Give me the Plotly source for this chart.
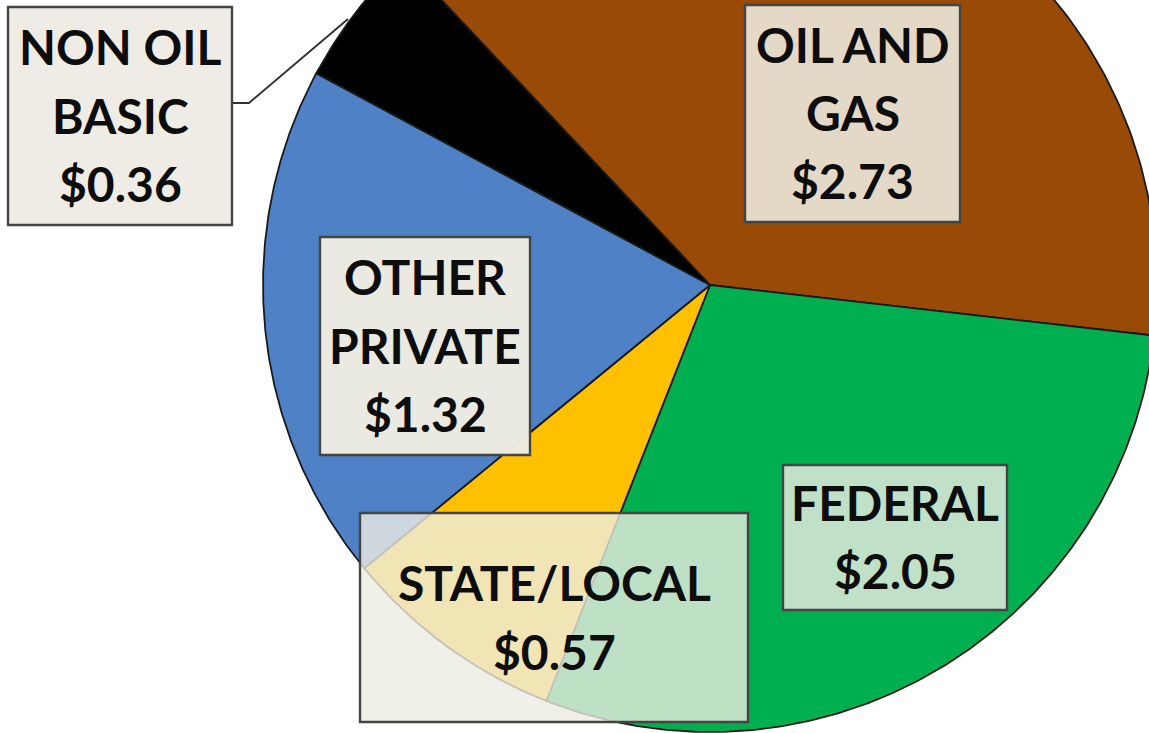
import numpy as np
import plotly.graph_objects as go

# ---- data ----
categories = ["OIL AND GAS", "FEDERAL", "STATE/LOCAL", "OTHER PRIVATE", "NON OIL BASIC"]
values = [2.73, 2.05, 0.57, 1.32, 0.36]
label_lines = [["OIL AND", "GAS"], ["FEDERAL"], ["STATE/LOCAL"], ["OTHER", "PRIVATE"], ["NON OIL", "BASIC"]]
colors = ["#9A4A07", "#00B050", "#FFC000", "#4F81C6", "#000000"]

# ---- layout geometry (pixels of the 1149x733 canvas) ----
W, H = 1149, 733
CX, CY, R = 710, 285, 447          # pie centre & radius in px
START = 316.7                       # compass angle where first slice starts (clockwise)

fig = go.Figure()

total = sum(values)
cum = START
for name, v, col in zip(categories, values, colors):
    span = v / total * 360.0
    th = np.radians(np.linspace(cum, cum + span, 200))
    xs = np.concatenate([[0.0], np.sin(th), [0.0]])
    ys = np.concatenate([[0.0], np.cos(th), [0.0]])
    fig.add_trace(go.Scatter(x=xs, y=ys, mode="lines", fill="toself", fillcolor=col,
                             line=dict(color="#1a1a1a", width=1.8), name=name,
                             hoverinfo="name", showlegend=False))
    cum += span

# axis ranges so that unit circle maps to the px geometry
fig.update_xaxes(range=[-CX / R, (W - CX) / R], visible=False, fixedrange=True)
fig.update_yaxes(range=[-(H - CY) / R, CY / R], visible=False, fixedrange=True)

def px(x):
    return x / W

def py(y):
    return 1 - y / H

# label boxes: (x0, y0, x1, y1, fill rgba, line step)
boxes = {
    "OIL AND GAS": (745, 5, 960, 222, "rgba(238,236,226,0.88)", 68),
    "FEDERAL": (783, 465, 1007, 610, "rgba(240,238,230,0.80)", 68),
    "STATE/LOCAL": (360, 513, 748, 722, "rgba(238,236,226,0.80)", 69),
    "OTHER PRIVATE": (320, 237, 530, 455, "rgba(240,237,228,0.97)", 68),
    "NON OIL BASIC": (8, 7, 232, 225, "rgba(238,236,228,1)", 68),
}

shapes = []
annotations = []
for name, v, lines in zip(categories, values, label_lines):
    x0, y0, x1, y1, fc, step = boxes[name]
    shapes.append(dict(type="rect", xref="paper", yref="paper",
                       x0=px(x0), x1=px(x1), y0=py(y0), y1=py(y1),
                       fillcolor=fc,
                       line=dict(color="#444444", width=2.4), layer="above"))
    all_lines = lines + [f"${v:.2f}"]
    n = len(all_lines)
    cxb = (x0 + x1) / 2
    cyb = (y0 + y1) / 2
    for i, t in enumerate(all_lines):
        yy = cyb + (i - (n - 1) / 2) * step
        annotations.append(dict(text=f"<b>{t}</b>", xref="paper", yref="paper",
                                x=px(cxb), y=py(yy - 1), xanchor="center", yanchor="middle",
                                showarrow=False,
                                font=dict(family="Lato, Carlito, 'Open Sans', sans-serif",
                                          size=48, color="#0d0d0d")))

# leader line for NON OIL BASIC
shapes.append(dict(type="path", xref="paper", yref="paper",
                   path=f"M {px(233)} {py(103)} L {px(249)} {py(103)} L {px(348)} {py(19)}",
                   line=dict(color="#333333", width=2), layer="above"))

fig.update_layout(width=W, height=H, margin=dict(l=0, r=0, t=0, b=0),
                  paper_bgcolor="white", plot_bgcolor="white",
                  shapes=shapes, annotations=annotations, showlegend=False)

fig.write_html("out.html", config={"displayModeBar": False},
               post_script="document.body.style.margin='0';document.body.style.overflow='hidden';")
